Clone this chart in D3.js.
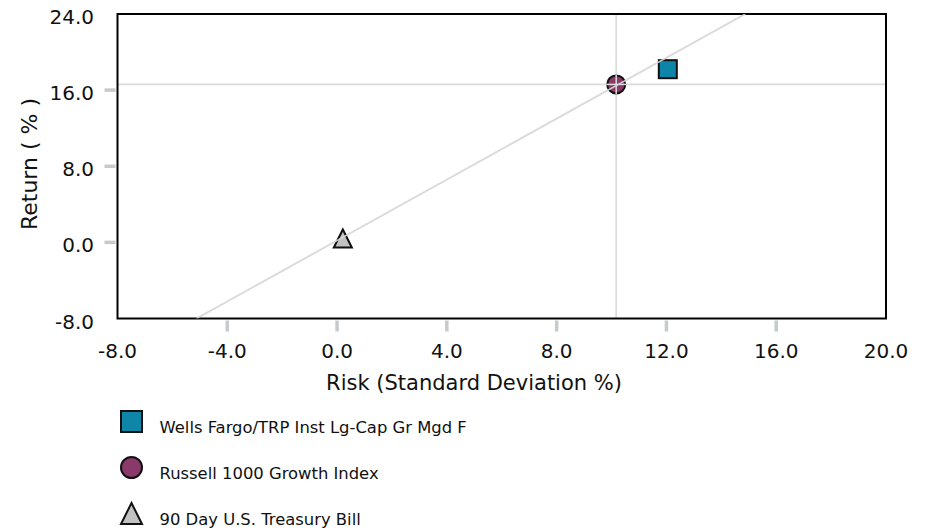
<!DOCTYPE html>
<html><head><meta charset="utf-8">
<script src="https://cdn.jsdelivr.net/npm/d3@7"></script>
<style>body{margin:0;background:#fff}svg{display:block}text{font-family:"DejaVu Sans",Verdana,sans-serif;fill:#111}</style>
</head><body><svg id="c" width="928" height="530"></svg>
<script>
const names = ["Wells Fargo/TRP Inst Lg-Cap Gr Mgd F","Russell 1000 Growth Index","90 Day U.S. Treasury Bill"];
const shapes = ["square","circle","triangle"];
const fills = ["#0f86a8","#8a3a6a","#c2c2c2"];
const risk = [12.05, 10.17, 0.21];
const ret = [18.2, 16.6, 0.4];
const xTicks = [-8,-4,0,4,8,12,16,20];
const yTicks = [-8,0,8,16,24];
const cmlRisk = [-5.12, 14.87];
const cmlRet = [-8, 24];

const svg = d3.select("#c");
const m = {l:117.5, r:886, t:14, b:318.5};
const x = d3.scaleLinear().domain([-8,20]).range([m.l,m.r]);
const y = d3.scaleLinear().domain([-8,24]).range([m.b,m.t]);

const tickCol = "#c6cacd";
svg.selectAll(".xt").data(xTicks.slice(1,-1)).join("line")
  .attr("x1",d=>x(d)).attr("x2",d=>x(d)).attr("y1",m.b+2).attr("y2",m.b+13)
  .attr("stroke",tickCol).attr("stroke-width",3.5);
svg.selectAll(".yt").data(yTicks.slice(1,-1)).join("line")
  .attr("y1",d=>y(d)).attr("y2",d=>y(d)).attr("x1",m.l-13).attr("x2",m.l-2)
  .attr("stroke",tickCol).attr("stroke-width",3.5);

svg.selectAll(".xl").data(xTicks).join("text")
  .attr("x",d=>x(d)).attr("y",m.b+39).attr("text-anchor","middle")
  .style("font-size","20px").text(d=>d.toFixed(1));
svg.selectAll(".yl").data(yTicks).join("text")
  .attr("x",94).attr("y",d=>y(d)+3).attr("dy","0.35em").attr("text-anchor","end")
  .style("font-size","20px").text(d=>d.toFixed(1));

svg.append("clipPath").attr("id","pc").append("rect")
  .attr("x",m.l).attr("y",m.t).attr("width",m.r-m.l).attr("height",m.b-m.t);
const g = svg.append("g").attr("clip-path","url(#pc)");
const lc = "#dcdcdc";
g.append("line").attr("x1",x(cmlRisk[0])).attr("y1",y(cmlRet[0])).attr("x2",x(cmlRisk[1])).attr("y2",y(cmlRet[1]))
  .attr("stroke",lc).attr("stroke-width",1.8);
g.append("line").attr("x1",x(risk[1])).attr("x2",x(risk[1])).attr("y1",m.t).attr("y2",m.b)
  .attr("stroke",lc).attr("stroke-width",1.8);
g.append("line").attr("y1",y(ret[1])).attr("y2",y(ret[1])).attr("x1",m.l).attr("x2",m.r)
  .attr("stroke",lc).attr("stroke-width",1.8);

svg.append("rect").attr("x",m.l).attr("y",m.t).attr("width",m.r-m.l).attr("height",m.b-m.t)
  .attr("fill","none").attr("stroke","#000").attr("stroke-width",2);

function marker(sel, shape, s){
  if(shape==="square") return sel.append("rect").attr("x",-s/2).attr("y",-s/2).attr("width",s).attr("height",s);
  if(shape==="circle") return sel.append("circle").attr("r",s/2);
  return sel.append("path").attr("d",`M0,${-s/2}L${s/2},${s/2}L${-s/2},${s/2}Z`);
}
const data = names.map((n,i)=>({n,shape:shapes[i],fill:fills[i],x:risk[i],y:ret[i]}));
[2,0,1].forEach(i=>{
  const d=data[i];
  const gg = svg.append("g").attr("transform",`translate(${x(d.x)},${y(d.y)})`);
  marker(gg,d.shape,18).attr("fill",d.fill).attr("stroke","#111").attr("stroke-width",2);
});
svg.append("g").attr("clip-path","url(#pc)").append("line")
  .attr("x1",x(cmlRisk[0])).attr("y1",y(cmlRet[0])).attr("x2",x(cmlRisk[1])).attr("y2",y(cmlRet[1]))
  .attr("stroke",lc).attr("stroke-width",1.5).attr("opacity",0.9);
svg.append("line").attr("x1",x(risk[1])).attr("x2",x(risk[1])).attr("y1",y(ret[1])-10).attr("y2",y(ret[1])+10)
  .attr("stroke",lc).attr("stroke-width",1.5);
svg.append("line").attr("y1",y(ret[1])).attr("y2",y(ret[1])).attr("x1",x(risk[1])-10).attr("x2",x(risk[1])+10)
  .attr("stroke",lc).attr("stroke-width",1.5);

svg.append("text").attr("x",474).attr("y",390).attr("text-anchor","middle")
  .style("font-size","21px").text("Risk (Standard Deviation %)");
svg.append("text").attr("transform","translate(37,164) rotate(-90)").attr("text-anchor","middle")
  .style("font-size","22px").text("Return ( % )");

const lg = svg.selectAll(".lg").data(data).join("g")
  .attr("transform",(d,i)=>`translate(131.5,${421.5+i*46})`);
lg.each(function(d){ marker(d3.select(this),d.shape,21).attr("fill",d.fill).attr("stroke","#111").attr("stroke-width",2); });
lg.append("text").attr("x",28).attr("y",11.5).style("font-size","16.4px").text(d=>d.n);
</script></body></html>
